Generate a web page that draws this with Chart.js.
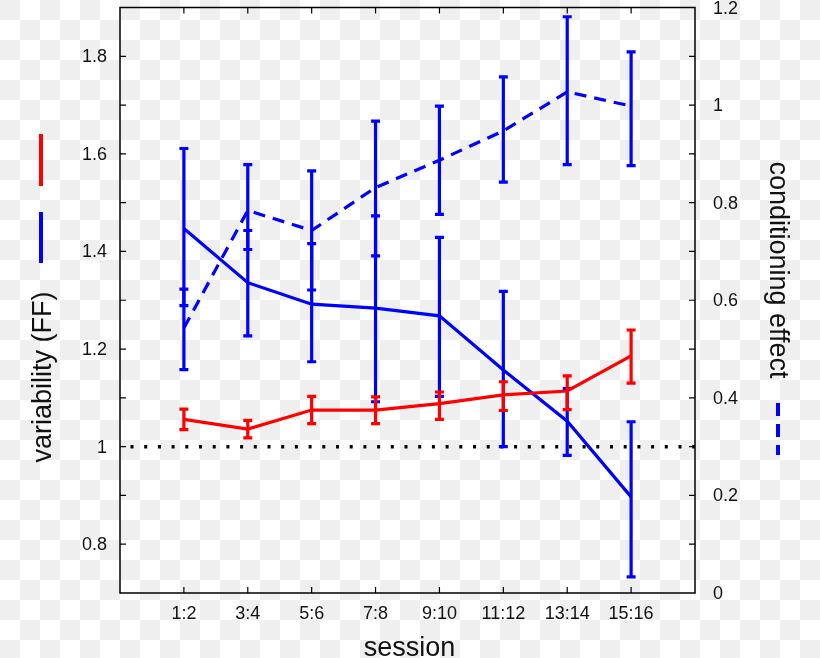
<!DOCTYPE html>
<html lang="en">
<head>
    <meta charset="UTF-8">
    <title>Variability and conditioning effect by session</title>
    <script src="https://cdn.jsdelivr.net/npm/chart.js"></script>
    <style>
        * {
            margin: 0;
            padding: 0;
            box-sizing: border-box;
        }

        body {
            width: 820px;
            height: 658px;
            overflow: hidden;
            background: repeating-conic-gradient(#ffffff 0 25%, #efefef 0 50%) 0 0 / 40px 40px;
        }

        .chart-box {
            position: relative;
            width: 820px;
            height: 658px;
        }
    </style>
</head>
<body>
    <div class="chart-box">
        <canvas id="sessionChart" width="820" height="658"></canvas>
    </div>

    <script>
        // sessions on the x axis
        const sessions = ['1:2', '3:4', '5:6', '7:8', '9:10', '11:12', '13:14', '15:16'];

        // tick labels
        const ffTicks = [0.8, 1, 1.2, 1.4, 1.6, 1.8];
        const condTicks = [0, 0.2, 0.4, 0.6, 0.8, 1, 1.2];

        // variability (FF), red series
        const ffRed = [1.056, 1.036, 1.075, 1.075, 1.088, 1.106, 1.114, 1.186];
        const ffRedLow = [1.035, 1.018, 1.047, 1.047, 1.056, 1.074, 1.076, 1.130];
        const ffRedHigh = [1.077, 1.054, 1.103, 1.102, 1.112, 1.133, 1.145, 1.239];

        // variability (FF), blue series
        const ffBlue = [1.447, 1.336, 1.292, 1.284, 1.268, 1.157, 1.052, 0.897];
        const ffBlueLow = [1.158, 1.227, 1.174, 1.092, 1.103, 1.000, 0.982, 0.733];
        const ffBlueHigh = [1.611, 1.578, 1.565, 1.667, 1.429, 1.318, 1.119, 1.051];

        // conditioning effect, blue dashed (right axis)
        const condEffect = [0.543, 0.784, 0.743, 0.831, 0.887, 0.947, 1.027, 0.998];
        const condLow = [0.589, 0.704, 0.621, 0.691, 0.776, 0.842, 0.878, 0.876];
        const condHigh = [0.623, 0.743, 0.716, 0.773, 0.998, 1.058, 1.181, 1.109];

        const FONT = '"Liberation Sans", Arial, sans-serif';
        const RED = '#ff0000';
        const BLUE = '#0000ff';

        function toPoints(values) {
            return values.map((v, i) => ({ x: i + 1, y: v }));
        }

        // error bars drawn right after each dataset
        const errorBars = {
            id: 'errorBars',
            afterDatasetDraw(chart, args) {
                const ds = chart.data.datasets[args.index];
                if (!ds.errLow) return;
                const yScale = chart.scales[args.meta.yAxisID];
                const ctx = chart.ctx;
                ctx.save();
                ctx.strokeStyle = ds.borderColor;
                ctx.lineWidth = 3.2;
                ctx.setLineDash([]);
                args.meta.data.forEach((pt, i) => {
                    const x = pt.x;
                    const lo = yScale.getPixelForValue(ds.errLow[i]);
                    const hi = yScale.getPixelForValue(ds.errHigh[i]);
                    ctx.beginPath();
                    ctx.moveTo(x, lo); ctx.lineTo(x, hi);
                    ctx.moveTo(x - 4.5, lo); ctx.lineTo(x + 4.5, lo);
                    ctx.moveTo(x - 4.5, hi); ctx.lineTo(x + 4.5, hi);
                    ctx.stroke();
                });
                ctx.restore();
            }
        };

        // dotted reference line at FF = 1
        const refLine = {
            id: 'refLine',
            beforeDatasetsDraw(chart) {
                const { ctx, chartArea } = chart;
                const y = chart.scales.y.getPixelForValue(1);
                ctx.save();
                ctx.strokeStyle = '#000';
                ctx.lineWidth = 3.5;
                ctx.setLineDash([3, 10.7]);
                ctx.beginPath();
                ctx.moveTo(chartArea.left + 10.5, y);
                ctx.lineTo(chartArea.right, y);
                ctx.stroke();
                ctx.restore();
            }
        };

        // box, inward ticks, tick labels, titles and legend marks
        const frame = {
            id: 'frame',
            afterDraw(chart) {
                const { ctx, chartArea } = chart;
                const { left, right, top, bottom } = chartArea;
                const xs = chart.scales.x, ys = chart.scales.y, y2 = chart.scales.y2;
                ctx.save();

                ctx.strokeStyle = '#000';
                ctx.lineWidth = 1.5;
                ctx.setLineDash([]);
                ctx.strokeRect(left, top, right - left, bottom - top);

                ctx.lineWidth = 1.2;
                ctx.beginPath();
                sessions.forEach((s, i) => {
                    const x = xs.getPixelForValue(i + 1);
                    ctx.moveTo(x, bottom); ctx.lineTo(x, bottom - 6);
                    ctx.moveTo(x, top); ctx.lineTo(x, top + 6);
                });
                for (let v = 0.8; v < 1.85; v += 0.1) {
                    const y = ys.getPixelForValue(v);
                    ctx.moveTo(left, y); ctx.lineTo(left + 6, y);
                }
                for (let v = 0.1; v < 1.15; v += 0.1) {
                    const y = y2.getPixelForValue(v);
                    ctx.moveTo(right, y); ctx.lineTo(right - 6, y);
                }
                ctx.stroke();

                ctx.fillStyle = '#111';
                ctx.font = '18px ' + FONT;
                ctx.textBaseline = 'alphabetic';
                ctx.textAlign = 'center';
                sessions.forEach((s, i) => {
                    ctx.fillText(s, xs.getPixelForValue(i + 1), bottom + 26);
                });
                ctx.textAlign = 'right';
                ffTicks.forEach(v => {
                    ctx.fillText(String(v), left - 13, ys.getPixelForValue(v) + 6);
                });
                ctx.textAlign = 'left';
                condTicks.forEach(v => {
                    ctx.fillText(String(v), right + 18, y2.getPixelForValue(v) + 6);
                });

                // axis titles
                ctx.font = '27px ' + FONT;
                ctx.textAlign = 'center';
                ctx.fillText('session', (left + right) / 2 + 2, 656);

                ctx.save();
                ctx.translate(44, 377);
                ctx.rotate(-Math.PI / 2);
                ctx.textBaseline = 'middle';
                ctx.fillText('variability (FF)', 0, 0);
                ctx.restore();

                ctx.save();
                ctx.translate(777, 270);
                ctx.rotate(Math.PI / 2);
                ctx.textBaseline = 'middle';
                ctx.fillText('conditioning effect', 0, 0);
                ctx.restore();

                // legend marks
                ctx.lineWidth = 4;
                ctx.strokeStyle = RED;
                ctx.beginPath(); ctx.moveTo(41, 134); ctx.lineTo(41, 186); ctx.stroke();
                ctx.strokeStyle = BLUE;
                ctx.beginPath(); ctx.moveTo(41, 212); ctx.lineTo(41, 263); ctx.stroke();
                ctx.setLineDash([13, 8]);
                ctx.beginPath(); ctx.moveTo(778, 403); ctx.lineTo(778, 455); ctx.stroke();

                ctx.restore();
            }
        };

        const chart = new Chart(document.getElementById('sessionChart'), {
            type: 'line',
            data: {
                datasets: [
                    {
                        label: 'variability (FF) red',
                        data: toPoints(ffRed),
                        errLow: ffRedLow,
                        errHigh: ffRedHigh,
                        borderColor: RED,
                        borderWidth: 3.2,
                        pointRadius: 0,
                        tension: 0,
                        yAxisID: 'y'
                    },
                    {
                        label: 'variability (FF) blue',
                        data: toPoints(ffBlue),
                        errLow: ffBlueLow,
                        errHigh: ffBlueHigh,
                        borderColor: BLUE,
                        borderWidth: 3.2,
                        pointRadius: 0,
                        tension: 0,
                        yAxisID: 'y'
                    },
                    {
                        label: 'conditioning effect',
                        data: toPoints(condEffect),
                        errLow: condLow,
                        errHigh: condHigh,
                        borderColor: BLUE,
                        borderWidth: 3.2,
                        borderDash: [12, 8],
                        pointRadius: 0,
                        tension: 0,
                        yAxisID: 'y2'
                    }
                ]
            },
            options: {
                responsive: false,
                animation: false,
                layout: { padding: { left: 120, right: 125, top: 7.5, bottom: 65 } },
                plugins: {
                    legend: { display: false },
                    tooltip: { enabled: false }
                },
                scales: {
                    x: { type: 'linear', min: 0, max: 9, display: false },
                    y: { type: 'linear', position: 'left', min: 0.7, max: 1.9, display: false },
                    y2: { type: 'linear', position: 'right', min: 0, max: 1.2, display: false }
                }
            },
            plugins: [refLine, errorBars, frame]
        });
    </script>
</body>
</html>
